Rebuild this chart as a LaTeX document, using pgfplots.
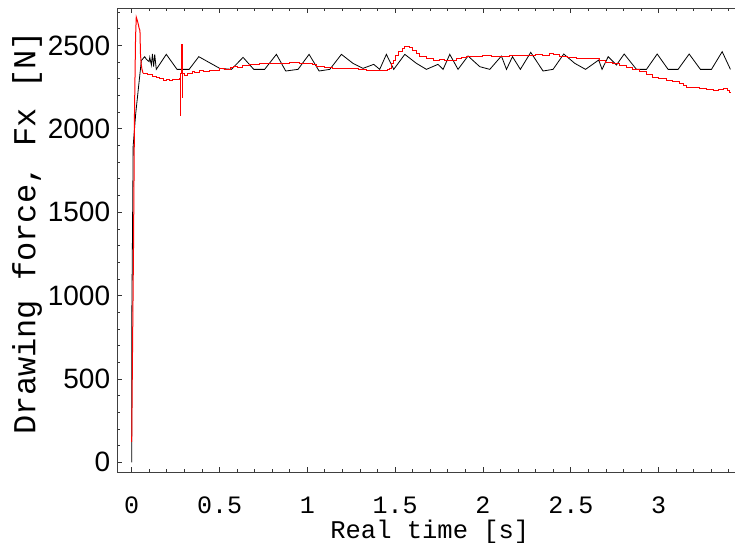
\documentclass[border=0pt]{standalone}
\usepackage{pgfplots}
\pgfplotsset{compat=1.18}
\usepackage{fontspec}
\setmainfont{Liberation Sans}
\newfontfamily\monof{Liberation Mono}
\begin{document}
\begin{tikzpicture}
\begin{axis}[name=ax, scale only axis, width=617.7pt, height=464pt,
  xmin=-0.082, xmax=3.435, ymin=-58, ymax=2725,
  axis x line*=box, axis y line*=left,
  axis line style={-, line width=1pt, black!75},
  xtick={0,0.5,1,1.5,2,2.5,3},
  minor xtick={0.1,0.2,0.3,0.4,0.6,0.7,0.8,0.9,1.1,1.2,1.3,1.4,1.6,1.7,1.8,1.9,2.1,2.2,2.3,2.4,2.6,2.7,2.8,2.9,3.1,3.2,3.3,3.4},
  ytick={0,500,1000,1500,2000,2500},
  minor ytick={100,200,300,400,600,700,800,900,1100,1200,1300,1400,1600,1700,1800,1900,2100,2200,2300,2400,2600,2700},
  tick align=inside, major tick length=5pt, minor tick length=2.8pt,
  tick style={black!80, line width=0.8pt},
  /pgf/number format/assume math mode=true, /pgf/number format/1000 sep={},
  xticklabel style={font=\monof\fontsize{25}{30}\selectfont, anchor=north, inner sep=0pt, yshift=-25pt},
  yticklabel style={font=\fontsize{28}{32}\selectfont, anchor=east, inner sep=0pt, xshift=-7pt},
  xlabel={Real time [s]},
  xlabel style={font=\monof\fontsize{25.5}{30}\selectfont, at={(axis description cs:0.506,0)}, anchor=base, yshift=-66pt},
  ylabel={Drawing force, Fx [N]},
  ylabel style={font=\monof\fontsize{32}{36}\selectfont, at={(axis description cs:-0.1328,0.516)}, anchor=base},
]
\addplot[black, line width=0.8pt] coordinates {
(0,0) (0,792) (0.008,1843) (0.008,1893) (0.023,2093) (0.055,2410) (0.074,2433) (0.084,2417)
(0.099,2403) (0.103,2429) (0.112,2383) (0.118,2449) (0.125,2373) (0.131,2447) (0.140,2357)
(0.197,2447) (0.258,2357) (0.327,2357) (0.382,2433) (0.501,2363) (0.568,2357) (0.634,2429)
(0.695,2357) (0.757,2357) (0.824,2447) (0.877,2347) (0.947,2357) (1.010,2447) (1.067,2347)
(1.128,2357) (1.194,2447) (1.260,2393) (1.317,2363) (1.378,2387) (1.412,2357) (1.450,2447)
(1.492,2357) (1.555,2447) (1.621,2393) (1.678,2357) (1.744,2387) (1.773,2357) (1.811,2447)
(1.858,2357) (1.915,2437) (1.982,2373) (2.039,2357) (2.105,2437) (2.134,2357) (2.168,2433)
(2.213,2357) (2.272,2459) (2.342,2347) (2.399,2357) (2.460,2449) (2.523,2393) (2.584,2357)
(2.659,2413) (2.678,2357) (2.713,2433) (2.760,2383) (2.804,2449) (2.874,2357) (2.931,2357)
(2.992,2449) (3.054,2357) (3.111,2357) (3.174,2449) (3.238,2357) (3.301,2357) (3.362,2463)
(3.409,2357)
};
\addplot[red, line width=1pt] coordinates {
(0,122) (0.004,600) (0.010,1250) (0.016,2100) (0.022,2550) (0.026,2670) (0.032,2650)
(0.037,2630) (0.042,2605) (0.047,2590) (0.050,2450) (0.054,2390) (0.058,2360) (0.064,2335)
};
\addplot[red, line width=1pt, const plot] coordinates {
(0.064,2335) (0.09,2325) (0.121,2313) (0.14,2310) (0.159,2300) (0.18,2293) (0.20,2296)
(0.215,2293) (0.23,2297) (0.254,2297) (0.270,2300) (0.276,2083) (0.279,2330) (0.284,2509)
(0.288,2190) (0.291,2330) (0.30,2320) (0.32,2335) (0.345,2343) (0.36,2338) (0.387,2349)
(0.41,2345) (0.444,2353) (0.47,2350) (0.50,2363) (0.53,2358) (0.56,2368) (0.577,2373)
(0.60,2370) (0.63,2380) (0.672,2389) (0.70,2385) (0.73,2392) (0.767,2393) (0.80,2390)
(0.85,2393) (0.90,2396) (0.957,2393) (1.0,2395) (1.03,2385) (1.052,2373) (1.10,2370)
(1.146,2363) (1.20,2365) (1.25,2360) (1.29,2356) (1.336,2353) (1.38,2348) (1.431,2349)
(1.455,2356) (1.469,2363) (1.478,2390) (1.488,2413) (1.50,2440) (1.517,2465) (1.54,2483)
(1.555,2493) (1.583,2490) (1.60,2470) (1.620,2450) (1.640,2433) (1.680,2420) (1.716,2413)
(1.75,2418) (1.78,2410) (1.811,2413) (1.85,2425) (1.88,2430) (1.905,2437) (1.95,2435)
(2.0,2440) (2.05,2433) (2.096,2437) (2.15,2440) (2.191,2443) (2.25,2440) (2.30,2445)
(2.34,2440) (2.38,2453) (2.40,2448) (2.437,2437) (2.48,2430) (2.532,2423) (2.60,2420)
(2.664,2413) (2.70,2400) (2.740,2393) (2.78,2380) (2.816,2369) (2.85,2355) (2.892,2343)
(2.93,2325) (2.968,2309) (3.0,2300) (3.044,2293) (3.08,2285) (3.120,2273) (3.14,2262)
(3.158,2249) (3.20,2248) (3.234,2243) (3.27,2238) (3.310,2233) (3.34,2235) (3.367,2243)
(3.39,2230) (3.405,2217) (3.415,2217)
};
\end{axis}
\pgfresetboundingbox
\path ([shift={(-117.3pt,-70pt)}]ax.south west) rectangle ([shift={(0pt,8pt)}]ax.north east);
\end{tikzpicture}
\end{document}
